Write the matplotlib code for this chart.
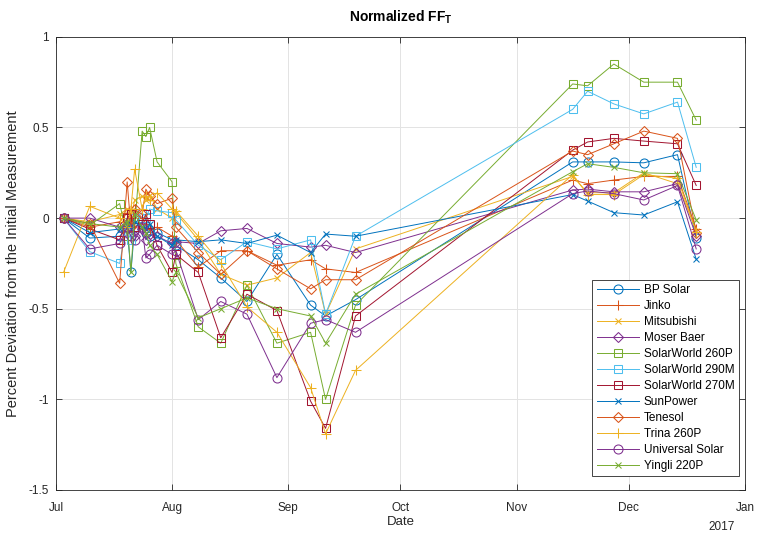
import matplotlib
matplotlib.use("Agg")
import matplotlib.pyplot as plt
import matplotlib.dates as mdates
import numpy as np
from datetime import datetime

plt.rcParams['font.family'] = ['Liberation Sans', 'DejaVu Sans']
plt.rcParams['mathtext.fontset'] = 'custom'
plt.rcParams['mathtext.rm'] = 'Liberation Sans'
plt.rcParams['mathtext.bf'] = 'Liberation Sans:bold'

# measurement dates (shared by all modules)
dates = ["2016-07-03", "2016-07-10", "2016-07-18", "2016-07-20", "2016-07-21",
         "2016-07-22", "2016-07-24", "2016-07-25", "2016-07-26", "2016-07-28",
         "2016-08-01", "2016-08-02", "2016-08-08", "2016-08-14", "2016-08-21",
         "2016-08-29", "2016-09-07", "2016-09-11", "2016-09-19", "2016-11-16",
         "2016-11-20", "2016-11-27", "2016-12-05", "2016-12-14", "2016-12-19"]

bp_solar = [0, -0.11, -0.10, -0.05, -0.30, -0.05, -0.02, -0.08, -0.10, -0.08,
            -0.12, -0.15, -0.23, -0.33, -0.46, -0.20, -0.48, -0.54, -0.45,
            0.31, 0.31, 0.31, 0.305, 0.35, -0.11]
jinko = [0, -0.05, -0.02, 0.03, -0.05, 0.05, 0.0, -0.03, -0.06, -0.05,
         -0.10, -0.12, -0.27, -0.18, -0.18, -0.26, -0.23, -0.28, -0.30,
         0.21, 0.19, 0.21, 0.23, 0.23, -0.06]
mitsubishi = [0, -0.02, 0.02, 0.05, 0.0, 0.10, 0.12, 0.10, 0.13, 0.05,
              0.0, 0.03, -0.12, -0.31, -0.37, -0.33, -0.19, -0.53, -0.17,
              0.23, 0.14, 0.14, 0.25, 0.19, -0.07]
moser_baer = [0, 0.0, -0.05, -0.08, -0.02, -0.10, -0.06, -0.12, -0.09, -0.10,
              -0.14, -0.13, -0.14, -0.07, -0.057, -0.14, -0.16, -0.15, -0.19,
              0.155, 0.16, 0.145, 0.145, 0.19, -0.10]
sw_260p = [0, -0.04, 0.08, -0.10, 0.0, -0.05, 0.48, 0.45, 0.50, 0.31,
           0.20, -0.25, -0.60, -0.69, -0.37, -0.69, -0.63, -1.0, -0.48,
           0.74, 0.73, 0.85, 0.75, 0.75, 0.54]
sw_290m = [0, -0.185, -0.25, -0.02, -0.12, 0.0, 0.03, 0.0, 0.05, 0.04,
           0.03, -0.01, -0.15, -0.23, -0.13, -0.17, -0.12, -0.53, -0.10,
           0.60, 0.70, 0.63, 0.575, 0.64, 0.28]
sw_270m = [0, -0.06, -0.12, 0.0, 0.02, -0.05, -0.03, 0.02, -0.03, -0.15,
           -0.30, -0.20, -0.30, -0.66, -0.42, -0.51, -1.01, -1.16, -0.54,
           0.375, 0.42, 0.44, 0.425, 0.41, 0.18]
sunpower = [0, -0.08, -0.06, -0.03, -0.06, -0.02, -0.05, -0.06, -0.03, -0.10,
            -0.15, -0.12, -0.13, -0.12, -0.14, -0.094, -0.19, -0.088, -0.10,
            0.13, 0.094, 0.03, 0.017, 0.09, -0.227]
tenesol = [0, -0.03, -0.36, 0.20, -0.05, 0.05, 0.02, 0.16, 0.12, 0.08,
           0.11, -0.05, -0.19, -0.31, -0.18, -0.28, -0.39, -0.34, -0.34,
           0.37, 0.35, 0.41, 0.48, 0.44, -0.08]
trina_260p = [-0.30, 0.065, 0.0, -0.05, 0.05, 0.27, 0.05, 0.12, 0.10, 0.14,
              0.05, 0.04, -0.10, -0.25, -0.49, -0.63, -0.935, -1.19, -0.84,
              0.24, 0.13, 0.13, 0.24, 0.22, -0.075]
universal = [0, -0.17, -0.14, -0.05, -0.10, -0.12, -0.05, -0.22, -0.20, -0.15,
             -0.20, -0.18, -0.56, -0.46, -0.53, -0.88, -0.58, -0.56, -0.63,
             0.135, 0.15, 0.135, 0.10, 0.18, -0.17]
yingli = [0, -0.03, -0.05, -0.02, -0.30, 0.02, -0.05, -0.08, -0.15, -0.20,
          -0.35, -0.30, -0.55, -0.50, -0.44, -0.50, -0.54, -0.69, -0.42,
          0.256, 0.30, 0.28, 0.25, 0.245, -0.01]

names = ["BP Solar", "Jinko", "Mitsubishi", "Moser Baer", "SolarWorld 260P",
         "SolarWorld 290M", "SolarWorld 270M", "SunPower", "Tenesol",
         "Trina 260P", "Universal Solar", "Yingli 220P"]
series = [bp_solar, jinko, mitsubishi, moser_baer, sw_260p, sw_290m, sw_270m,
          sunpower, tenesol, trina_260p, universal, yingli]
markers = ["o", "+", "x", "D", "s", "s", "s", "x", "D", "+", "o", "x"]
msizes = [6.5, 7, 4.5, 5, 5.5, 5.5, 5.5, 4.5, 5, 7, 6.5, 4.5]

matlab_colors = ["#0072BD", "#D95319", "#EDB120", "#7E2F8E", "#77AC30",
                 "#4DBEEE", "#A2142F"]

x = [datetime.strptime(d, "%Y-%m-%d") for d in dates]

fig = plt.figure(figsize=(7.57, 5.34), dpi=100)
ax = fig.add_axes([0.074, 0.0824, 0.91, 0.8486])

for i, (name, vals) in enumerate(zip(names, series)):
    c = matlab_colors[i % 7]
    ax.plot(x, vals, color=c, lw=0.7, marker=markers[i], ms=msizes[i],
            mfc="none", mec=c, mew=0.75, label=name)

ax.set_xlim(datetime(2016, 7, 1), datetime(2017, 1, 1))
ax.set_ylim(-1.5, 1)
tick_dates = [datetime(2016, m, 1) for m in range(7, 13)] + [datetime(2017, 1, 1)]
ax.set_xticks(tick_dates)
ax.set_xticklabels(["Jul", "Aug", "Sep", "Oct", "Nov", "Dec", "Jan"])
ax.set_yticks([-1.5, -1, -0.5, 0, 0.5, 1])
ax.set_yticklabels(["-1.5", "-1", "-0.5", "0", "0.5", "1"])

gray = "#262626"
ax.tick_params(direction="in", length=4, width=0.6, colors=gray,
               labelsize=8.5, top=True, right=True, pad=5)
ax.tick_params(axis="x", pad=9)
for sp in ax.spines.values():
    sp.set_color(gray)
    sp.set_linewidth(0.6)
ax.grid(True, color="#e3e3e3", lw=0.7)
ax.set_axisbelow(True)

ax.set_xlabel("Date", fontsize=9.5, color=gray, labelpad=1)
ax.set_ylabel("Percent Deviation from the Initial Measurement", fontsize=10.5,
              color=gray, labelpad=6)
ax.set_title(r"Normalized FF$_\mathbf{T}$", fontsize=10, fontweight="bold",
             color="black", pad=11)

ax.text(0.985, -0.068, "2017", transform=ax.transAxes,
        ha="right", va="top", fontsize=8.5, color=gray)

leg = ax.legend(loc="lower right", bbox_to_anchor=(0.991, 0.031), fontsize=8.5,
                frameon=True, fancybox=False, edgecolor=gray, framealpha=1,
                handlelength=3.6, handletextpad=0.4, labelspacing=0.34,
                borderpad=0.35, borderaxespad=0)
leg.get_frame().set_linewidth(0.6)

fig.savefig("out.png", dpi=100)
